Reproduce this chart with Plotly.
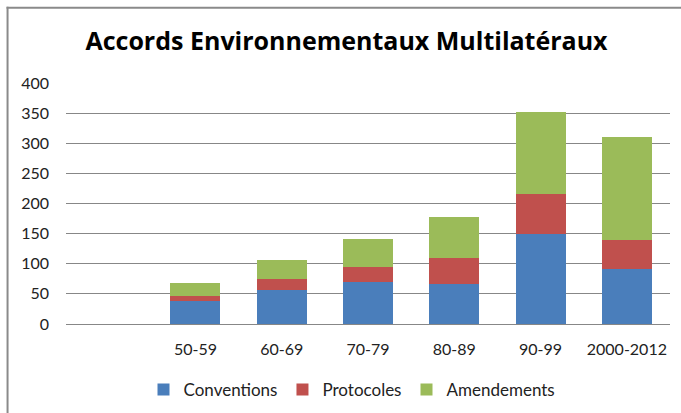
import plotly.graph_objects as go

categories = ["", "50-59", "60-69", "70-79", "80-89", "90-99", "2000-2012"]
conventions = [None, 38, 57, 70, 67, 150, 92]
protocoles = [None, 9, 17, 24, 42, 66, 47]
amendements = [None, 21, 32, 47, 68, 136, 172]
y_ticks = [0, 50, 100, 150, 200, 250, 300, 350, 400]

W, H = 681, 413
# target positions in window pixels
PL, PR, PT, PB = 65.5, 670, 83.3, 324.3
L, R, T, B = PL, W - PR, PT, H - PB
pw, ph = W - L - R, H - T - B

font = "Lato, 'Open Sans', sans-serif"

fig = go.Figure()
for name, vals, col in [("Conventions", conventions, "#4A7EBB"),
                        ("Protocoles", protocoles, "#C0504D"),
                        ("Amendements", amendements, "#9BBB59")]:
    fig.add_trace(go.Bar(x=categories, y=vals, name=name, marker_color=col,
                         marker_line_width=0))

def px_x(px):
    return (px - L) / pw

def px_y(py):
    return (H - B - py) / ph

border = dict(color="#8A8A8A", width=2)

fig.update_layout(
    width=W, height=H,
    barmode="stack", bargap=0.42,
    plot_bgcolor="white", paper_bgcolor="white",
    margin=dict(l=L, r=R, t=T, b=B, pad=0),
    font=dict(family=font, size=16, color="#222"),
    title=dict(text="<b>Accords Environnementaux Multilatéraux</b>",
               font=dict(family="'Open Sans', sans-serif", size=25, color="black"),
               x=346.5 / W, xref="container", xanchor="center",
               y=1 - 41 / H, yref="container", yanchor="middle"),
    legend=dict(orientation="h", xref="container", yref="container",
                x=352 / W, xanchor="center", y=1 - 390 / H,
                yanchor="middle", font=dict(size=17), itemwidth=30,
                traceorder="normal"),
    xaxis=dict(type="category", categoryorder="array", categoryarray=categories,
               range=[-0.5, 6.5], showgrid=False, showline=False,
               ticks="", ticklabelstandoff=14, tickfont=dict(size=16)),
    yaxis=dict(range=[0, 400], tickvals=y_ticks, showgrid=True,
               gridcolor="#878787", gridwidth=1, zeroline=True,
               zerolinecolor="#878787", zerolinewidth=1, showline=False,
               ticks="", ticklabelstandoff=16, tickfont=dict(size=16)),
    shapes=[
        dict(type="line", xref="paper", yref="paper",
             x0=px_x(7), x1=px_x(7), y0=px_y(H + 5), y1=px_y(7),
             line=border, layer="above"),
        dict(type="line", xref="paper", yref="paper",
             x0=px_x(6), x1=px_x(W + 5), y0=px_y(8), y1=px_y(8),
             line=border, layer="above"),
    ],
)

fig.write_html(
    "out.html",
    config={"displayModeBar": False},
    post_script="document.body.style.margin='0';document.body.style.overflow='hidden';",
)
